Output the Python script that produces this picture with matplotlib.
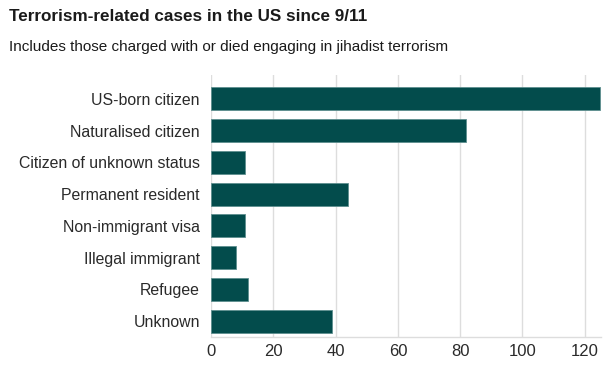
import matplotlib.pyplot as plt

# Data
categories = ['US-born citizen', 'Naturalised citizen', 'Citizen of unknown status',
              'Permanent resident', 'Non-immigrant visa', 'Illegal immigrant',
              'Refugee', 'Unknown']
cases = [125, 82, 11, 44, 11, 8, 12, 39]
xticks = [0, 20, 40, 60, 80, 100, 120]

plt.rcParams['font.family'] = ['Liberation Sans', 'DejaVu Sans']

fig = plt.figure(figsize=(6.14, 3.75), dpi=100)
ax = fig.add_axes([0.3436, 0.1013, 0.6352, 0.6987])

pos = list(range(len(categories)))
ax.barh(pos, cases, height=0.72, color='#034c4c', edgecolor='#5e8f8f',
        linewidth=0.6, zorder=3)

ax.set_ylim(7.5, -0.75)
ax.set_xlim(0, 125.2)
ax.set_yticks(pos)
ax.set_yticklabels(categories, fontsize=11.4, color='#2a2a2a')
ax.set_xticks(xticks)
ax.set_xticklabels([str(t) for t in xticks], fontsize=12, color='#2a2a2a')
ax.tick_params(axis='y', length=0, pad=8)
ax.tick_params(axis='x', length=0, pad=5)

# Grid
ax.grid(axis='x', color='#dddddd', linewidth=1, zorder=0)
for s in ['top', 'right', 'left']:
    ax.spines[s].set_visible(False)
ax.spines['bottom'].set_color('#dddddd')
ax.spines['bottom'].set_linewidth(1)

# Titles
fig.text(0.015, 0.975, 'Terrorism-related cases in the US since 9/11',
         fontsize=12.3, fontweight='bold', color='#1a1a1a', va='top')
fig.text(0.015, 0.893, 'Includes those charged with or died engaging in jihadist terrorism',
         fontsize=11, color='#1a1a1a', va='top')

plt.savefig('out.png', dpi=100)
